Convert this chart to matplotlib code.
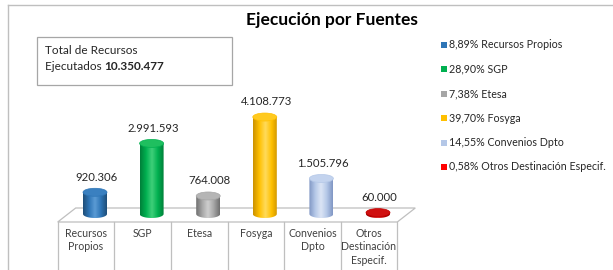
import numpy as np
import matplotlib
matplotlib.use("Agg")
import matplotlib.pyplot as plt
from matplotlib.path import Path
from matplotlib.patches import PathPatch, Ellipse, Polygon, Rectangle
from matplotlib.colors import LinearSegmentedColormap
from matplotlib.lines import Line2D

plt.rcParams['font.family'] = ['Lato', 'DejaVu Sans']

# data
categories = ["Recursos\nPropios", "SGP", "Etesa", "Fosyga", "Convenios\nDpto",
              "Otros\nDestinación\nEspecif."]
values = [920306, 2991593, 764008, 4108773, 1505796, 60000]
value_labels = ["920.306", "2.991.593", "764.008", "4.108.773", "1.505.796", "60.000"]
legend_labels = ["8,89% Recursos Propios", "28,90% SGP", "7,38% Etesa", "39,70% Fosyga",
                 "14,55% Convenios Dpto", "0,58% Otros Destinación Especif."]
title = "Ejecución por Fuentes"
total_text = "10.350.477"

# cylinder shading: (dark, mid, light, top)
shades = [("#1F4E79", "#2E75B6", "#5B9BD5", "#3A80C0"),
          ("#00803A", "#00B050", "#3FD07A", "#1FBF5F"),
          ("#6F6F6F", "#A6A6A6", "#CFCFCF", "#B5B5B5"),
          ("#CC9200", "#FFC000", "#FFDB5C", "#FFCA20"),
          ("#8097C4", "#B4C7E7", "#DCE5F5", "#C3D3EE"),
          ("#900000", "#C00000", "#E03030", "#D01010")]
legend_colors = ["#2E75B6", "#00B050", "#A6A6A6", "#FFC000", "#B4C7E7", "#FF0000"]

W, H = 613, 270
fig = plt.figure(figsize=(W / 100, H / 100), dpi=100)
ax = fig.add_axes([0, 0, 1, 1])

# scale: category step in px, px per value unit, baseline pixel
step = 56.6
x0px = 95
ypm = 23.6e-6
base_py = 214
xlim = (-x0px / step, (W - x0px) / step)
ylim = ((base_py - H) / ypm, base_py / ypm)
ax.set_xlim(*xlim)
ax.set_ylim(*ylim)
ax.axis("off")

dx = lambda px: px / step
dy = lambda px: px / ypm

n = len(values)
gray = "#BFBFBF"

# floor
front_y, back_y = dy(-8), dy(6)
fx0 = -0.5 - dx(9)
fx1 = n - 0.5 - dx(9)
floor = Polygon([(fx0, front_y), (fx1, front_y), (fx1 + dx(18), back_y), (fx0 + dx(18), back_y)],
                closed=True, facecolor="white", edgecolor=gray, lw=0.9, zorder=1)
ax.add_patch(floor)

# table lines under the floor
for k in range(n + 1):
    xk = k - 0.5 - dx(9)
    ax.plot([xk, xk], [front_y, ylim[0]], color=gray, lw=0.9, zorder=1)

for i, cat in enumerate(categories):
    ax.text(i - dx(9), front_y - dy(6), cat, ha="center", va="top", fontsize=7.6,
            color="#404040", linespacing=1.25)

# cylinders
w = dx(24)
eh = dy(8)
t = np.linspace(np.pi, 2 * np.pi, 40)
for i, v in enumerate(values):
    dark, mid, light, top = shades[i]
    xa, xb = i - w / 2, i + w / 2
    ex = i + w / 2 * np.cos(t)
    ey = eh / 2 * np.sin(t)
    verts = [(xa, v)] + list(zip(ex, ey)) + [(xb, v), (xa, v)]
    codes = [Path.MOVETO] + [Path.LINETO] * (len(verts) - 2) + [Path.CLOSEPOLY]
    body = PathPatch(Path(verts, codes), facecolor="none", edgecolor="none", zorder=3)
    ax.add_patch(body)
    cmap = LinearSegmentedColormap.from_list("c%d" % i, [dark, mid, light, mid, dark],)
    grad = np.linspace(0, 1, 64).reshape(1, -1)
    im = ax.imshow(grad, cmap=cmap, extent=[xa, xb, -eh / 2, v + eh / 2], aspect="auto",
                   zorder=3, interpolation="bilinear")
    im.set_clip_path(body)
    ax.add_patch(Ellipse((i, v), w, eh, facecolor=top, edgecolor=mid, lw=0.5, zorder=4))
    ax.annotate(value_labels[i], (i, v), xytext=(1, 11), textcoords="offset points",
                ha="center", va="center", fontsize=8.2, color="#262626", zorder=5)

ax.set_xlim(*xlim)
ax.set_ylim(*ylim)

# frame (top and left edges)
fig.add_artist(Line2D([8 / W, 1], [1 - 5 / H, 1 - 5 / H], color=gray, lw=1))
fig.add_artist(Line2D([8 / W, 8 / W], [1 - 5 / H, 0], color=gray, lw=1))

# title
fig.text(332 / W, 1 - 20 / H, title, ha="center", va="center", fontsize=12.5,
         fontweight="bold", color="#000000")

# total box
fig.add_artist(Rectangle((37 / W, 1 - 85 / H), 195 / W, 48 / H, transform=fig.transFigure,
                         facecolor="white", edgecolor="#A6A6A6", lw=0.9))
fig.text(45 / W, 1 - 51 / H, "Total de Recursos", ha="left", va="center", fontsize=8.5,
         color="#262626")
t1 = fig.text(45 / W, 1 - 66 / H, "Ejecutados ", ha="left", va="center", fontsize=8.5,
              color="#262626")
fig.canvas.draw()
bb = t1.get_window_extent()
fig.text(bb.x1 / W, 1 - 66 / H, total_text, ha="left", va="center", fontsize=8.5,
         fontweight="bold", color="#262626")

# legend
for k, (lab, col) in enumerate(zip(legend_labels, legend_colors)):
    py = 45 + 24.4 * k
    fig.add_artist(Rectangle((441 / W, 1 - (py + 3) / H), 5.5 / W, 6 / H,
                             transform=fig.transFigure, facecolor=col, edgecolor="none"))
    fig.text(449 / W, 1 - py / H, lab, ha="left", va="center", fontsize=7.7, color="#262626")

fig.savefig("out.png", dpi=100)
